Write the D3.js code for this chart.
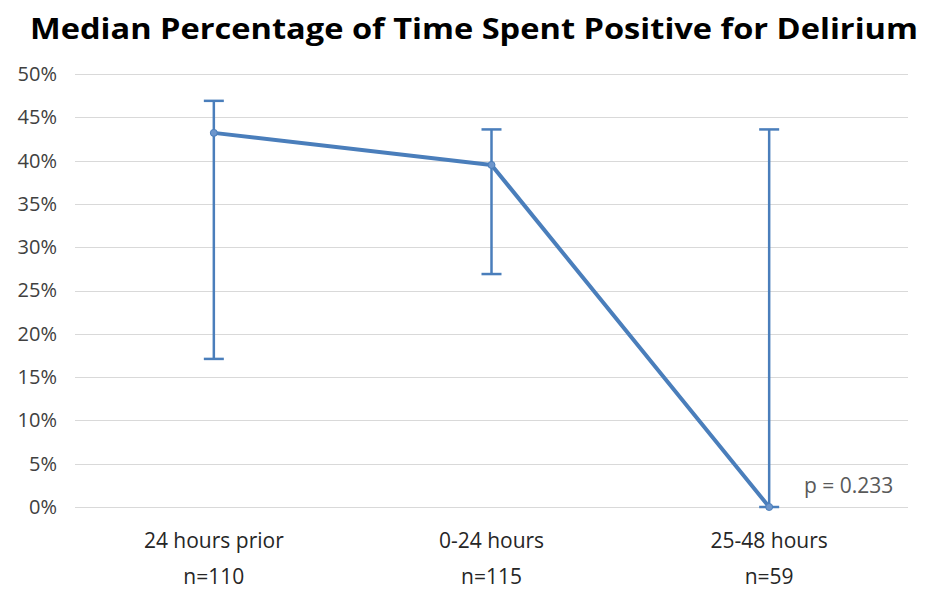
<!DOCTYPE html>
<html>
<head>
<meta charset="utf-8">
<script src="https://cdn.jsdelivr.net/npm/d3@7/dist/d3.min.js"></script>
<style>
  html, body { margin: 0; padding: 0; background: #fff; }
  svg { display: block; font-family: "Open Sans", "Liberation Sans", sans-serif; }
</style>
</head>
<body>
<svg id="chart" width="929" height="590"></svg>
<script>
// Median share of time positive for delirium, with range bars
const categories = ["24 hours prior", "0-24 hours", "25-48 hours"];
const sampleSizes = ["n=110", "n=115", "n=59"];
const medians = [0.432, 0.395, 0.0];
const upper = [0.469, 0.436, 0.436];
const lower = [0.171, 0.269, 0.0];
const yTicks = [0, 0.05, 0.10, 0.15, 0.20, 0.25, 0.30, 0.35, 0.40, 0.45, 0.50];
const pLabel = "p = 0.233";

const svg = d3.select("#chart");
const margin = { left: 75, right: 21, top: 74, bottom: 83 };
const W = 929, H = 590;

const x = d3.scaleBand().domain(categories)
  .range([margin.left, W - margin.right]).padding(0);
const y = d3.scaleLinear().domain([0, 0.5])
  .range([H - margin.bottom, margin.top]);

const blue = "#4a7ebb";
const grey = "#404040";

// Title
svg.append("text")
  .attr("x", 474).attr("y", 39)
  .attr("text-anchor", "middle")
  .attr("font-size", 29).attr("font-weight", "bold")
  .attr("fill", "#000")
  .attr("textLength", 888).attr("lengthAdjust", "spacingAndGlyphs")
  .text("Median Percentage of Time Spent Positive for Delirium");

// Gridlines
svg.append("g").selectAll("line").data(yTicks).join("line")
  .attr("x1", margin.left).attr("x2", W - margin.right)
  .attr("y1", d => Math.round(y(d)) + 0.5).attr("y2", d => Math.round(y(d)) + 0.5)
  .attr("stroke", "#d9d9d9").attr("stroke-width", 1.2);

// Y axis labels
const yAxis = d3.axisLeft(y).tickValues(yTicks).tickFormat(d3.format(".0%"))
  .tickSize(0).tickPadding(0);
const gy = svg.append("g").attr("transform", `translate(${margin.left - 18},0)`).call(yAxis);
gy.select(".domain").remove();
gy.selectAll("text").attr("font-size", 20).attr("fill", grey)
  .attr("font-family", "'Open Sans', sans-serif");

// X axis labels (two lines)
const gx = svg.append("g");
categories.forEach((c, i) => {
  const cx = x(c) + x.bandwidth() / 2;
  gx.append("text").attr("x", cx).attr("y", 548).attr("text-anchor", "middle")
    .attr("font-size", 21).attr("fill", "#262626").text(c);
  gx.append("text").attr("x", cx).attr("y", 584).attr("text-anchor", "middle")
    .attr("font-size", 21).attr("fill", "#262626").text(sampleSizes[i]);
});

const cxOf = i => x(categories[i]) + x.bandwidth() / 2;

// Error bars
const eb = svg.append("g").attr("stroke", blue).attr("stroke-width", 2.5).attr("fill", "none");
categories.forEach((c, i) => {
  const cx = cxOf(i);
  eb.append("line").attr("x1", cx).attr("x2", cx)
    .attr("y1", y(upper[i])).attr("y2", y(lower[i]));
  eb.append("line").attr("x1", cx - 10).attr("x2", cx + 10)
    .attr("y1", y(upper[i])).attr("y2", y(upper[i]));
  eb.append("line").attr("x1", cx - 10).attr("x2", cx + 10)
    .attr("y1", y(lower[i])).attr("y2", y(lower[i]));
});

// Median line
const line = d3.line().x((d, i) => cxOf(i)).y(d => y(d));
svg.append("path").datum(medians)
  .attr("d", line).attr("fill", "none")
  .attr("stroke", blue).attr("stroke-width", 4).attr("stroke-linejoin", "round");

// Markers
svg.append("g").selectAll("circle").data(medians).join("circle")
  .attr("cx", (d, i) => cxOf(i)).attr("cy", d => y(d)).attr("r", 3.5)
  .attr("fill", "#6d96cc").attr("stroke", blue).attr("stroke-width", 1);

// p-value annotation
svg.append("text").attr("x", 804).attr("y", 493)
  .attr("font-size", 21).attr("fill", "#595959").text(pLabel);
</script>
</body>
</html>
